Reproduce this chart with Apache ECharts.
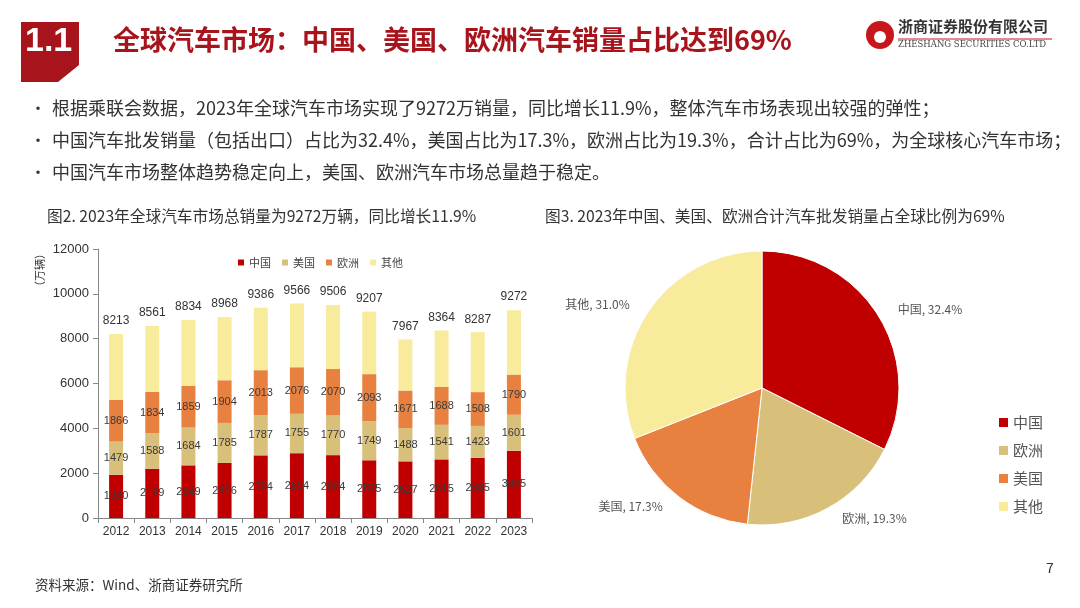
<!DOCTYPE html>
<html>
<head>
<meta charset="utf-8">
<script src="https://cdn.jsdelivr.net/npm/echarts@6/dist/echarts.min.js"></script>
<style>
html,body{margin:0;padding:0;background:#fff;}
#main{width:1080px;height:608px;}
</style>
</head>
<body>
<div id="main"></div>
<script>
// ---- data ----
const years = ['2012','2013','2014','2015','2016','2017','2018','2019','2020','2021','2022','2023'];
const china = [1930,2199,2349,2456,2794,2894,2804,2575,2527,2615,2685,3005];
const usa = [1479,1588,1684,1785,1787,1755,1770,1749,1488,1541,1423,1601];
const europe = [1866,1834,1859,1904,2013,2076,2070,2093,1671,1688,1508,1790];
const totals = [8213,8561,8834,8968,9386,9566,9506,9207,7967,8364,8287,9272];
const others = totals.map((t,i)=>t-china[i]-usa[i]-europe[i]);
const yTicks = [0,2000,4000,6000,8000,10000,12000];
const pieNames = ['中国','欧洲','美国','其他'];
const pieShares = [32.4,19.3,17.3,31.0];
const bullets = [
  '根据乘联会数据，2023年全球汽车市场实现了9272万销量，同比增长11.9%，整体汽车市场表现出较强的弹性；',
  '中国汽车批发销量（包括出口）占比为32.4%，美国占比为17.3%，欧洲占比为19.3%，合计占比为69%，为全球核心汽车市场；',
  '中国汽车市场整体趋势稳定向上，美国、欧洲汽车市场总量趋于稳定。'
];

const CJK = '"Noto Sans CJK SC", "Noto Sans", sans-serif';
const NUM = '"Liberation Sans", Arial, sans-serif';
const barNames = ['中国','美国','欧洲','其他'];
const barColorList = ['#C00000','#D8BF7A','#E8803F','#F8EB9C'];
const pieColors = ['#C00000','#D8BF7A','#E8803F','#F8EB9C'];

const chart = echarts.init(document.getElementById('main'));

const labelStyle = {show:true, position:'inside', color:'#3a3a3a', fontSize:11, fontFamily:NUM};

const graphics = [
  // header block
  {type:'polygon', shape:{points:[[21,22],[79,22],[79,65],[58,82],[21,82]]}, style:{fill:'#A8141C'}},
  {type:'text', left:25, top:25, style:{text:'1.1', fill:'#fff', font:'bold 34px ' + NUM}},
  {type:'text', left:113, top:26, style:{text:'全球汽车市场：中国、美国、欧洲汽车销量占比达到69%', fill:'#A8141C', font:'bold 27px ' + CJK}},
  // logo
  {type:'circle', shape:{cx:880, cy:35, r:14}, style:{fill:'#C8161D'}},
  {type:'circle', shape:{cx:880, cy:37, r:6}, style:{fill:'#fff'}},
  {type:'text', left:898, top:19, style:{text:'浙商证券股份有限公司', fill:'#333', font:'bold 15px ' + CJK}},
  {type:'line', shape:{x1:898, y1:39, x2:1052, y2:39}, style:{stroke:'#C8161D', lineWidth:1}},
  {type:'text', left:898, top:40, style:{text:'ZHESHANG SECURITIES CO.LTD', fill:'#444', font:'8.5px "DejaVu Serif", serif'}},
  // chart titles
  {type:'text', left:47, top:208, style:{text:'图2. 2023年全球汽车市场总销量为9272万辆，同比增长11.9%', fill:'#333', font:'15.7px ' + CJK}},
  {type:'text', left:545, top:208, style:{text:'图3. 2023年中国、美国、欧洲合计汽车批发销量占全球比例为69%', fill:'#333', font:'15.7px ' + CJK}},
  // y-axis unit
  {type:'text', x:34, y:292, rotation:Math.PI/2, style:{text:'（万辆）', fill:'#333', font:'11px ' + CJK}},
  // footer
  {type:'text', left:35, top:578, style:{text:'资料来源：Wind、浙商证券研究所', fill:'#333', font:'13.5px ' + CJK}},
  {type:'text', left:1046, top:561, style:{text:'7', fill:'#333', font:'14px ' + CJK}}
];
bullets.forEach((b,i)=>{
  graphics.push({type:'text', left:30, top:100 + i*32, style:{text:'•', fill:'#333', font:'16px ' + CJK}});
  graphics.push({type:'text', left:52, top:99 + i*32, style:{text:b, fill:'#333', font:'18px ' + CJK}});
});

const option = {
  animation:false,
  backgroundColor:'#fff',
  graphic: graphics,
  legend:[
    {data:barNames.map((n,i)=>({name:n, itemStyle:{color:barColorList[i]}})), left:233, top:252, itemWidth:6, itemHeight:6, itemGap:11, icon:'rect',
     textStyle:{color:'#444', fontSize:11, fontFamily:CJK}},
    {data:pieNames.map((n,i)=>({name:n, itemStyle:{color:pieColors[i]}})), orient:'vertical', left:994, top:410, itemWidth:9, itemHeight:9, itemGap:13, icon:'rect',
     textStyle:{color:'#555', fontSize:15, fontFamily:CJK}}
  ],
  grid:{left:98, right:548, top:249, bottom:90},
  xAxis:{type:'category', data:years, boundaryGap:true,
    axisLine:{lineStyle:{color:'#888'}}, axisTick:{show:true, alignWithLabel:false, lineStyle:{color:'#888'}},
    axisLabel:{color:'#333', fontSize:12, margin:8, fontFamily:NUM}},
  yAxis:{type:'value', min:0, max:12000, interval:2000,
    axisLine:{show:true, lineStyle:{color:'#888'}}, axisTick:{show:true, lineStyle:{color:'#888'}},
    splitLine:{show:false},
    axisLabel:{color:'#333', fontSize:13, margin:9, fontFamily:NUM, formatter:(v)=>String(v)}},
  series:[
    {name:'中国', type:'bar', stack:'a', barWidth:14, data:china, itemStyle:{color:barColorList[0]}, label:labelStyle},
    {name:'美国', type:'bar', stack:'a', data:usa, itemStyle:{color:barColorList[1]}, label:labelStyle},
    {name:'欧洲', type:'bar', stack:'a', data:europe, itemStyle:{color:barColorList[2]}, label:labelStyle},
    {name:'其他', type:'bar', stack:'a', data:others, itemStyle:{color:barColorList[3]},
      label:{show:true, position:'top', distance:7, color:'#333', fontSize:12, fontFamily:NUM,
        formatter:(p)=>String(totals[p.dataIndex])}},
    {name:'份额', type:'pie', center:[762,388], radius:137, startAngle:90, clockwise:true,
      data: pieNames.map((n,i)=>({name:n, value:pieShares[i], itemStyle:{color:pieColors[i]}})),
      itemStyle:{borderColor:'#fff', borderWidth:1},
      label:{show:true, position:'outside', formatter:(p)=>p.name + ', ' + p.value.toFixed(1) + '%', color:'#555', fontSize:12, fontFamily:CJK},
      labelLine:{show:false, length:12, length2:4},
      emphasis:{disabled:true}}
  ]
};
chart.setOption(option);
</script>
</body>
</html>
